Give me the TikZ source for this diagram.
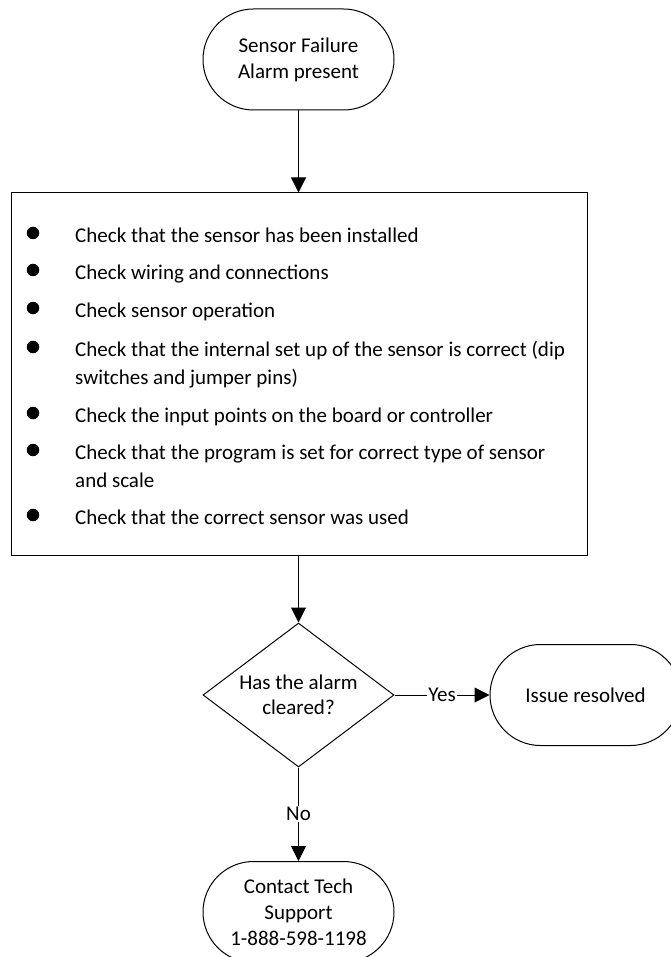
\documentclass[tikz,border=0pt]{standalone}
\usepackage{fontspec}
\setmainfont{Carlito}
\usetikzlibrary{arrows.meta,shapes.misc,shapes.geometric}

\tikzset{
  line/.style={draw=black, line width=1pt},
  term/.style={line, rounded rectangle, minimum width=191pt, minimum height=101pt,
    inner sep=0pt, align=center, font=\fontsize{21}{26}\selectfont},
  decision/.style={line, diamond, shape aspect=1.33, minimum width=191pt, minimum height=144pt,
    inner sep=0pt, align=center, font=\fontsize{21}{25}\selectfont},
  checkbox/.style={line, rectangle, minimum width=576pt, minimum height=362pt, inner sep=0pt},
  item/.style={anchor=mid west, inner sep=0pt, font=\fontsize{21}{25.5}\selectfont},
  dot/.style={circle, fill=black, minimum size=12.5pt, inner sep=0pt},
  flow/.style={line, -{Triangle[width=15pt,length=15pt]}},
  lbl/.style={fill=white, inner sep=1pt, font=\fontsize{21}{25.5}\selectfont}
}

\begin{document}
\begin{tikzpicture}[x=1pt, y=-1pt]
\useasboundingbox (0,0) rectangle (670,957);

% start terminal
\node[term] (start) at (298.5,59.5) {Sensor Failure\\Alarm present};

% checklist box
\node[checkbox] (checks) at (299,374) {};

\node[item] (c1) at (75,240) {Check that the sensor has been installed};
\node[item] (c2) at (75,277) {Check wiring and connections};
\node[item] (c3) at (75,315) {Check sensor operation};
\node[item] (c4) at (75,354) {Check that the internal set up of the sensor is correct (dip};
\node[item] (c4b) at (75,382) {switches and jumper pins)};
\node[item] (c5) at (75,420) {Check the input points on the board or controller};
\node[item] (c6) at (75,457) {Check that the program is set for correct type of sensor};
\node[item] (c6b) at (75,485) {and scale};
\node[item] (c7) at (75,522) {Check that the correct sensor was used};

\foreach \yy/\nm in {233/b1,270/b2,308/b3,347/b4,413/b5,450/b6,515/b7}
  \node[dot] (\nm) at (33,\yy) {};

% decision and outcomes
\node[decision] (ask) at (298.5,695) {Has the alarm\\cleared?};
\node[term] (done) at (585.5,695) {Issue resolved};
\node[term] (support) at (298.5,912) {Contact Tech\\Support\\1-888-598-1198};

% connectors
\draw[flow] (start.south) -- (checks.north -| start.south);
\draw[flow] (checks.south -| ask.north) -- (ask.north);
\draw[flow] (ask.east) -- node[lbl] {Yes} (done.west);
\draw[flow] (ask.south) -- node[lbl] {No} (support.north);
\end{tikzpicture}
\end{document}
